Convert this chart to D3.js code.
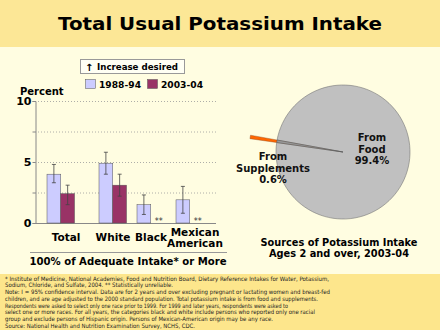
<!DOCTYPE html>
<html><head><meta charset="utf-8">
<script src="https://cdn.jsdelivr.net/npm/d3@7"></script>
<style>html,body{margin:0;padding:0;background:#FFFDE1;}svg{display:block;font-family:"DejaVu Sans",Verdana,sans-serif;}</style>
</head><body>
<script>
const categories = ["Total", "White", "Black", "Mexican American"];
const series = ["1988-94", "2003-04"];
const values1988 = [4.0, 4.9, 1.5, 1.9];
const values2003 = [2.4, 3.1, null, null];
const ciLow1988 = [3.3, 4.0, 0.7, 0.8];
const ciHigh1988 = [4.8, 5.8, 2.3, 3.0];
const ciLow2003 = [1.5, 2.2, null, null];
const ciHigh2003 = [3.1, 4.0, null, null];
const yTicks = [0, 5, 10];
const gridTicks = [2.5, 5, 7.5, 10];
const pieLabels = ["From Food", "From Supplements"];
const pieValues = [99.4, 0.6];
const footnotes = [
  "*  Institute of Medicine, National Academies, Food and Nutrition Board, Dietary Reference Intakes for Water, Potassium,",
  "Sodium, Chloride, and Sulfate, 2004.  ** Statistically unreliable.",
  "Note: I = 95% confidence interval. Data are for 2 years and over excluding pregnant or lactating women and breast-fed",
  "children, and are age adjusted to the 2000 standard population. Total potassium intake is from food and supplements.",
  "Respondents were asked to select only one race prior to 1999. For 1999 and later years, respondents were asked to",
  "select one or more races.  For all years, the categories black and white include persons who reported only one racial",
  "group and exclude persons of Hispanic origin. Persons of Mexican-American origin may be any race.",
  "Source: National Health and Nutrition Examination Survey, NCHS, CDC."
];
const footWidths = [324, 168, 325, 313, 283, 310, 268, 190];

const W = 440, H = 330;
const svg = d3.select("body").append("svg").attr("width", W).attr("height", H);
const yellow = "#FCE796";
svg.append("rect").attr("width", W).attr("height", H).attr("fill", "#FFFDE1");
svg.append("rect").attr("width", W).attr("height", 47).attr("fill", yellow);
svg.append("rect").attr("y", 274).attr("width", W).attr("height", 56).attr("fill", "#FDE68C");

svg.append("text").attr("x", 220).attr("y", 30).attr("text-anchor", "middle")
  .attr("font-size", 18).attr("font-weight", "bold").attr("textLength", 324).attr("lengthAdjust", "spacingAndGlyphs")
  .text("Total Usual Potassium Intake");

// Bar chart
const y = d3.scaleLinear().domain([0, 10]).range([223, 101]);
const gx = d3.scaleOrdinal().domain(categories).range([61, 113, 151, 190]);
const inner = d3.scaleBand().domain(series).range([-14, 13.5]).padding(0);
const colors = d3.scaleOrdinal().domain(series).range(["#CCCCFF", "#993366"]);

const g = svg.append("g");
g.selectAll("line.grid").data(gridTicks).join("line")
  .attr("x1", 35).attr("x2", 216).attr("y1", d => y(d) + 0.5).attr("y2", d => y(d) + 0.5)
  .attr("stroke", "#999").attr("stroke-width", 0.8).attr("stroke-dasharray", "1,2");

const yAxis = d3.axisLeft(y).tickValues(gridTicks.concat([0])).tickSize(3).tickFormat(d => yTicks.includes(d) ? d : "");
const ya = g.append("g").attr("transform", "translate(35.5,0)").call(yAxis);
ya.select(".domain").attr("stroke", "#888");
ya.selectAll(".tick line").attr("stroke", "#888");
ya.selectAll(".tick text").attr("font-size", 11).attr("font-weight", "bold").attr("fill", "#000")
  .attr("font-family", "DejaVu Sans").attr("x", -4).attr("dy", "0.36em");

g.append("line").attr("x1", 35).attr("x2", 216).attr("y1", 223.5).attr("y2", 223.5).attr("stroke", "#888");

g.append("text").attr("x", 20).attr("y", 95).attr("font-size", 10).attr("font-weight", "bold").text("Percent");

const barData = [];
categories.forEach((c, i) => {
  barData.push({c, s: series[0], v: values1988[i], lo: ciLow1988[i], hi: ciHigh1988[i]});
  barData.push({c, s: series[1], v: values2003[i], lo: ciLow2003[i], hi: ciHigh2003[i]});
});
const withVal = barData.filter(d => d.v != null);
g.selectAll("rect.bar").data(withVal).join("rect")
  .attr("x", d => gx(d.c) + inner(d.s)).attr("width", inner.bandwidth())
  .attr("y", d => y(d.v)).attr("height", d => y(0) - y(d.v))
  .attr("fill", d => colors(d.s)).attr("stroke", "#555").attr("stroke-width", 0.5);

const eb = g.selectAll("g.err").data(withVal).join("g").attr("stroke", "#444").attr("stroke-width", 0.8);
eb.append("line").attr("x1", d => gx(d.c) + inner(d.s) + inner.bandwidth() / 2).attr("x2", d => gx(d.c) + inner(d.s) + inner.bandwidth() / 2)
  .attr("y1", d => y(d.lo)).attr("y2", d => y(d.hi));
[ "lo", "hi" ].forEach(k => {
  eb.append("line").attr("x1", d => gx(d.c) + inner(d.s) + inner.bandwidth() / 2 - 2).attr("x2", d => gx(d.c) + inner(d.s) + inner.bandwidth() / 2 + 2)
    .attr("y1", d => y(d[k])).attr("y2", d => y(d[k]));
});

g.selectAll("text.star").data(barData.filter(d => d.v == null)).join("text")
  .attr("x", d => gx(d.c) + inner(d.s) + inner.bandwidth() / 2 + 1).attr("y", 224)
  .attr("text-anchor", "middle").attr("font-size", 8).attr("fill", "#333").text("**");

const labelOffsets = [5, 0, 0, 5];
categories.forEach((c, i) => {
  const words = c.split(" ");
  const t = g.append("text").attr("text-anchor", "middle").attr("font-size", 10.5).attr("font-weight", "bold")
    .attr("x", gx(c) + labelOffsets[i]).attr("y", words.length > 1 ? 236 : 241);
  words.forEach((w, j) => t.append("tspan").attr("x", gx(c) + labelOffsets[i]).attr("dy", j ? 11 : 0).text(w));
});

g.append("line").attr("x1", 30).attr("x2", 227).attr("y1", 252.5).attr("y2", 252.5).attr("stroke", "#999");
g.append("text").attr("x", 128).attr("y", 265).attr("text-anchor", "middle").attr("font-size", 11).attr("font-weight", "bold")
  .attr("textLength", 197).attr("lengthAdjust", "spacingAndGlyphs").text("100% of Adequate Intake* or More");

// Legend
g.append("rect").attr("x", 80.5).attr("y", 59.5).attr("width", 104).attr("height", 14).attr("fill", "#FFFFF4").attr("stroke", "#999");
g.append("text").attr("x", 85).attr("y", 70.5).attr("font-size", 10).attr("font-weight", "bold").text("↑");
g.append("text").attr("x", 97).attr("y", 70).attr("font-size", 9).attr("font-weight", "bold")
  .attr("textLength", 81).attr("lengthAdjust", "spacingAndGlyphs").text("Increase desired");
const legX = [85, 147];
series.forEach((s, i) => {
  g.append("rect").attr("x", legX[i] + 0.5).attr("y", 79.5).attr("width", 10).attr("height", 9).attr("fill", colors(s)).attr("stroke", "#555").attr("stroke-width", 0.5);
  g.append("text").attr("x", legX[i] + 14).attr("y", 88).attr("font-size", 9.5).attr("font-weight", "bold")
    .attr("textLength", 42).attr("lengthAdjust", "spacingAndGlyphs").text(s);
});

// Pie
const cx = 343, cy = 152, r = 67;
const startA = -79.7 * Math.PI / 180;
const pie = d3.pie().sort(null).startAngle(startA).endAngle(startA + 2 * Math.PI);
const arcs = pie(pieValues);
const arcIn = d3.arc().innerRadius(0).outerRadius(r);
const arcOut = d3.arc().innerRadius(0).outerRadius(r + 27);
const pg = svg.append("g").attr("transform", `translate(${cx},${cy})`);
pg.append("path").attr("d", arcOut(arcs[1])).attr("fill", "#FF6600").attr("stroke", "#8a4a20").attr("stroke-width", 0.4);
pg.append("path").attr("d", arcIn(arcs[0])).attr("fill", "#C0C0C0").attr("stroke", "#777").attr("stroke-width", 0.6);
pg.append("path").attr("d", arcIn(arcs[1])).attr("fill", "#999").attr("stroke", "#555").attr("stroke-width", 0.5);

const pieText = [
  {x: 372, y: 141, lines: ["From", "Food", pieValues[0] + "%"]},
  {x: 273, y: 160, lines: ["From", "Supplements", pieValues[1] + "%"]}
];
pieText.forEach(p => {
  const t = svg.append("text").attr("text-anchor", "middle").attr("font-size", 10).attr("font-weight", "bold").attr("fill", "#111");
  p.lines.forEach((l, j) => t.append("tspan").attr("x", p.x).attr("y", p.y + j * 11.5).text(l));
});

svg.append("text").attr("x", 339).attr("y", 246).attr("text-anchor", "middle").attr("font-size", 10.5).attr("font-weight", "bold")
  .attr("textLength", 157).attr("lengthAdjust", "spacingAndGlyphs").text("Sources of Potassium Intake");
svg.append("text").attr("x", 339).attr("y", 257).attr("text-anchor", "middle").attr("font-size", 10.5).attr("font-weight", "bold")
  .attr("textLength", 140).attr("lengthAdjust", "spacingAndGlyphs").text("Ages 2 and over, 2003-04");

// Footnotes
footnotes.forEach((f, i) => {
  svg.append("text").attr("x", 5).attr("y", 280.5 + i * 6.75).attr("font-size", 6).attr("fill", "#222")
    .attr("textLength", footWidths[i]).attr("lengthAdjust", "spacingAndGlyphs").text(f);
});
</script>
</body></html>
